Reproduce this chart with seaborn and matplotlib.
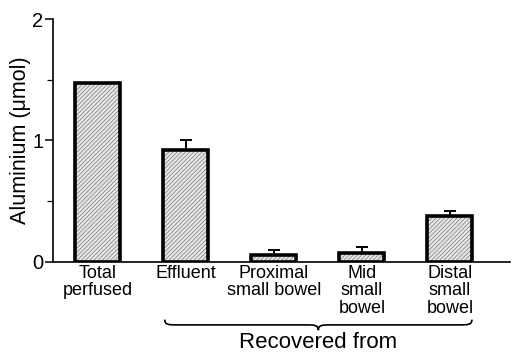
import matplotlib
matplotlib.use("Agg")
import matplotlib.pyplot as plt
import seaborn as sns
import numpy as np
import pandas as pd
from matplotlib.path import Path
from matplotlib.patches import PathPatch
import matplotlib.transforms as mtransforms

categories = ["Total\nperfused", "Effluent", "Proximal\nsmall bowel", "Mid\nsmall\nbowel", "Distal\nsmall\nbowel"]
values = [1.47, 0.92, 0.06, 0.07, 0.38]
errors = [0.0, 0.08, 0.04, 0.05, 0.04]
y_ticks = [0, 1, 2]
y_label = "Aluminium (\u03bcmol)"
group_label = "Recovered from"

sns.set_style("ticks")
plt.rcParams['font.family'] = ['Liberation Sans', 'DejaVu Sans']
plt.rcParams['hatch.linewidth'] = 0.5
plt.rcParams['text.color'] = 'black'
plt.rcParams['axes.labelcolor'] = 'black'
plt.rcParams['xtick.color'] = 'black'
plt.rcParams['ytick.color'] = 'black'
plt.rcParams['axes.edgecolor'] = 'black'

df = pd.DataFrame({"cat": categories, "val": values})

fig = plt.figure(figsize=(5.17, 3.52), dpi=100)
ax = fig.add_axes([0.1025, 0.256, 0.8835, 0.69])

sns.barplot(data=df, x="cat", y="val", color="#e6e6e6", width=0.51,
            linewidth=0, edgecolor="#7a7a7a", saturation=1, ax=ax, errorbar=None)
for p in ax.patches:
    p.set_hatch("////////")
    p.set_edgecolor("#7a7a7a")
    p.set_linewidth(0)
sns.barplot(data=df, x="cat", y="val", fill=False, width=0.51, color="black",
            linewidth=2.6, edgecolor="black", ax=ax, errorbar=None)

xs = np.arange(len(categories))
err = np.array(errors)
mask = err > 0
ax.errorbar(xs[mask], np.array(values)[mask], yerr=[np.zeros(mask.sum()), err[mask]],
            fmt="none", ecolor="black", elinewidth=1.4, capsize=4, capthick=1.4, zorder=5)

ax.set_ylim(0, 2)
ax.set_xlim(-0.51, 4.68)
ax.set_yticks(y_ticks)
ax.set_yticks([0.5, 1.5], minor=True)
ax.tick_params(axis='y', which='major', length=6, width=1.1, labelsize=14.5, pad=1, direction='out')
ax.tick_params(axis='y', which='minor', length=4, width=0.9, direction='out')
ax.tick_params(axis='x', length=0, labelsize=13, pad=2)
for lbl in ax.get_xticklabels():
    lbl.set_linespacing(1.05)
    lbl.set_va('top')
ax.set_xlabel("")
ax.set_ylabel(y_label, fontsize=15.5, labelpad=1)
sns.despine(ax=ax)
ax.spines['left'].set_linewidth(1.2)
ax.spines['bottom'].set_linewidth(1.2)

# brace beneath the "recovered from" groups
trans = mtransforms.blended_transform_factory(ax.transData, fig.transFigure)
x0, x1 = 0.76, 4.25
xm = (x0 + x1) / 2
yt, ym, yb = 0.092, 0.077, 0.062
d = 0.15
verts = [(x0, yt), (x0, ym), (x0 + d * 0.3, ym), (x0 + d, ym),
         (xm - d, ym),
         (xm - d * 0.3, ym), (xm, ym), (xm, yb),
         (xm, ym), (xm + d * 0.3, ym), (xm + d, ym),
         (x1 - d, ym),
         (x1 - d * 0.3, ym), (x1, ym), (x1, yt)]
codes = [Path.MOVETO, Path.CURVE4, Path.CURVE4, Path.CURVE4,
         Path.LINETO,
         Path.CURVE4, Path.CURVE4, Path.CURVE4,
         Path.CURVE4, Path.CURVE4, Path.CURVE4,
         Path.LINETO,
         Path.CURVE4, Path.CURVE4, Path.CURVE4]
fig.add_artist(PathPatch(Path(verts, codes), transform=trans, fill=False,
                         lw=1.2, edgecolor="black", clip_on=False))
fig.text(0.615, 0.026, group_label, transform=fig.transFigure, ha="center", va="center", fontsize=16)

fig.savefig("out.png", dpi=100)
